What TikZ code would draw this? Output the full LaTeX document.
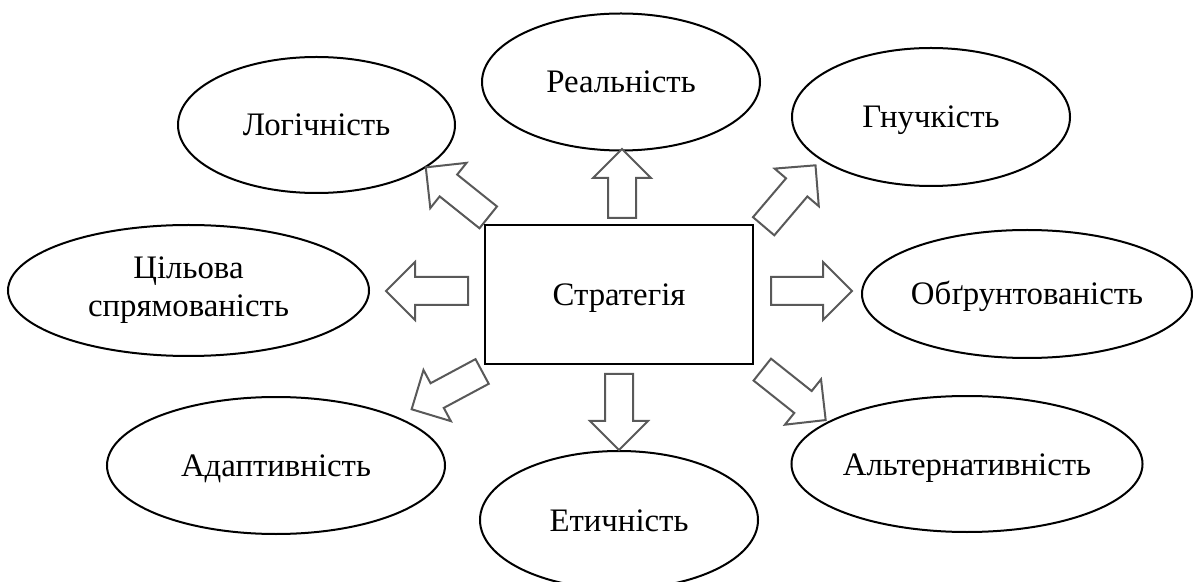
\documentclass[tikz,border=0pt]{standalone}
\usepackage{fontspec}
\setmainfont{Liberation Serif}
\usetikzlibrary{shapes.geometric,shapes.arrows}
\definecolor{arrowgray}{RGB}{89,89,89}

\begin{document}
\begin{tikzpicture}[
    x=.5pt,y=-.5pt,font=\fontsize{16.4}{19}\selectfont,
    quality/.style={ellipse,draw,line width=1pt,inner sep=0pt,align=center},
    oneline/.style={text height=12.5pt,text depth=1.5pt},
    core/.style={rectangle,draw,line width=1pt,minimum width=134pt,
        minimum height=69.5pt,oneline},
    blockarrow/.style={single arrow,draw=arrowgray,line width=1pt,fill=white,
        single arrow head extend=7.5pt,single arrow tip angle=90,
        inner xsep=0pt,inner ysep=6.5pt,anchor=tail}
]
    \useasboundingbox (0,0) rectangle (1193,582);

    % The strategy in the middle.
    \node[core] (strategy) at (619,294.5) {Стратегія};

    % Upper row.
    \node[quality,oneline,minimum width=138.5pt,minimum height=68pt] (logic) at (316.5,125) {Логічність};
    \node[quality,oneline,minimum width=139pt,minimum height=68.5pt] (real) at (621,82) {Реальність};
    \node[quality,oneline,minimum width=139pt,minimum height=69pt] (flex) at (931,117) {Гнучкість};
    % Middle row.
    \node[quality,minimum width=180.5pt,minimum height=65.5pt] (goal) at (188.5,290.5) {Цільова\\спрямованість};
    \node[quality,oneline,minimum width=165pt,minimum height=64pt] (ground) at (1027,294) {Обґрунтованість};
    % Lower row.
    \node[quality,oneline,minimum width=169pt,minimum height=68.5pt] (adapt) at (276,465.5) {Адаптивність};
    \node[quality,oneline,minimum width=139pt,minimum height=69pt] (ethic) at (619,520) {Етичність};
    \node[quality,oneline,minimum width=174.5pt,minimum height=68pt] (alter) at (967,464) {Альтернативність};

    % Hollow arrows from the strategy: tail point, direction, length.
    \foreach \name/\x/\y/\dir/\len in {logic/489/218/141.3/40,real/622/219/90/34.5,
        flex/763/227/49.6/40,goal/469/291/180/41,ground/770/291/0/40.5,
        adapt/483/371/208.2/40,ethic/619/373/270/38,alter/761.5/369/-38.5/40.5}
        \node[blockarrow,rotate=\dir,minimum height=\len pt] (to-\name) at (\x,\y) {};
\end{tikzpicture}
\end{document}
